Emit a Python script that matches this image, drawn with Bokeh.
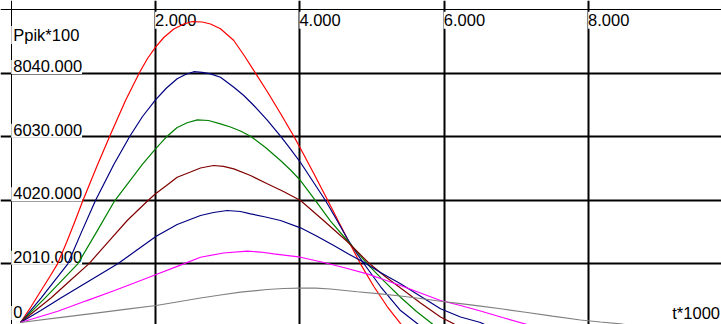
from bokeh.plotting import figure
from bokeh.models import Range1d, Grid, FixedTicker
from bokeh.core.properties import value
from bokeh.embed import file_html
from bokeh.resources import INLINE

# ---- axis ticks / labels ----
X_TICKS = [2, 4, 6, 8]
X_TICK_LABELS = ["2.000", "4.000", "6.000", "8.000"]
Y_TICKS = [0, 2010, 4020, 6030, 8040]
Y_TICK_LABELS = ["0", "2010.000", "4020.000", "6030.000", "8040.000"]
Y_TOP = 10050
Y_TITLE = "Ppik*100"
X_TITLE = "t*1000"

# ---- series (t in thousands, P in Ppik*100) ----
red_t = [0.128, 0.267, 0.405, 0.544, 0.641, 0.766, 0.876, 0.993, 1.191, 1.375, 1.583, 1.781, 1.888,
         1.999, 2.114, 2.252, 2.391, 2.507, 2.646, 2.761, 2.899, 3.084, 3.232, 3.384, 3.551, 3.731,
         3.915, 4.008, 4.192, 4.386, 4.563, 4.655, 4.839, 5.024, 5.209, 5.394, 5.442]
red_p = [155, 629, 1135, 1641, 2010, 2684, 3316, 4011, 5118, 6098, 7172, 8073, 8500,
         8863, 9164, 9432, 9590, 9669, 9654, 9590, 9439, 9069, 8579, 8038, 7441, 6761,
         6044, 5655, 4865, 4011, 3221, 2810, 2010, 1293, 661, 123, 0]

navy1_t = [0.128, 0.415, 0.599, 0.784, 0.973, 1.167, 1.421, 1.643, 1.819, 1.999, 2.151, 2.299, 2.414,
           2.529, 2.646, 2.761, 2.899, 3.084, 3.222, 3.361, 3.547, 3.731, 3.870, 4.008, 4.181, 4.354,
           4.507, 4.655, 4.770, 4.885, 5.116, 5.394, 5.643, 5.671]
navy1_p = [155, 936, 1473, 2010, 3012, 4011, 5149, 6044, 6667, 7194, 7567, 7858, 7994,
           8083, 8064, 8016, 7909, 7593, 7330, 7014, 6555, 6044, 5639, 5213, 4612, 4011,
           3411, 2810, 2399, 2020, 1293, 534, 92, 0]

green_t = [0.128, 0.470, 0.696, 0.922, 1.181, 1.435, 1.625, 1.814, 1.999, 2.161, 2.299, 2.438, 2.577,
           2.733, 2.899, 3.037, 3.176, 3.315, 3.523, 3.731, 3.870, 4.008, 4.216, 4.424, 4.655, 4.932,
           5.162, 5.394, 5.615, 5.837, 5.872]
green_p = [155, 936, 1473, 2010, 3012, 4011, 4580, 5149, 5646, 6044, 6319, 6469, 6562,
           6541, 6436, 6335, 6208, 6044, 5687, 5276, 4975, 4643, 4011, 3363, 2747, 2010,
           1473, 955, 503, 107, 0]

maroon_t = [0.128, 0.554, 0.814, 1.075, 1.341, 1.607, 1.895, 1.999, 2.151, 2.299, 2.484, 2.622, 2.802,
            2.941, 3.084, 3.315, 3.547, 3.772, 4.008, 4.327, 4.655, 4.954, 5.172, 5.394, 5.671, 5.948,
            6.132, 6.19]
maroon_p = [155, 936, 1473, 2010, 2696, 3379, 4011, 4223, 4485, 4748, 4912, 5039, 5118,
            5092, 5013, 4802, 4539, 4296, 4011, 3379, 2715, 2036, 1625, 1245, 771, 329,
            114, 0]

navy2_t = [0.128, 0.409, 0.692, 1.084, 1.476, 1.742, 2.008, 2.299, 2.622, 2.802, 2.992, 3.176, 3.315,
           3.523, 3.731, 4.008, 4.230, 4.469, 4.673, 4.885, 5.116, 5.394, 5.671, 5.948, 6.225, 6.502,
           6.64]
navy2_p = [155, 534, 936, 1473, 2010, 2447, 2883, 3253, 3537, 3632, 3695, 3664, 3591,
           3490, 3379, 3148, 2889, 2589, 2320, 2061, 1735, 1378, 983, 588, 329, 155,
           0]

magenta_t = [0.128, 0.645, 1.039, 1.431, 1.722, 2.008, 2.318, 2.622, 2.941, 3.269, 3.454, 3.638, 4.008,
             4.331, 4.631, 4.932, 5.158, 5.394, 5.671, 5.948, 6.225, 6.502, 6.807, 7.125, 7.264]
magenta_p = [155, 512, 841, 1166, 1419, 1672, 1947, 2219, 2352, 2409, 2383, 2326, 2219,
             2052, 1878, 1694, 1514, 1324, 1087, 850, 692, 518, 313, 107, 0]

gray_t = [0.128, 0.664, 1.199, 1.604, 2.008, 2.317, 2.622, 2.899, 3.176, 3.547, 3.772, 4.008, 4.216,
          4.424, 4.794, 5.116, 5.394, 5.671, 5.948, 6.225, 6.502, 6.807, 7.125, 7.499, 7.888, 8.165,
          8.442, 8.72]
gray_p = [155, 307, 462, 577, 692, 812, 929, 1024, 1113, 1198, 1230, 1245, 1239,
          1214, 1128, 1062, 993, 914, 828, 755, 676, 582, 480, 354, 234, 171,
          114, 0]

series = [
    (red_t, red_p, "#FF0000"),
    (navy1_t, navy1_p, "#000080"),
    (green_t, green_p, "#008000"),
    (maroon_t, maroon_p, "#800000"),
    (navy2_t, navy2_p, "#000080"),
    (magenta_t, magenta_p, "#FF00FF"),
    (gray_t, gray_p, "#808080"),
]

X_START, X_END = -0.149, 9.8413
Y_START, Y_END = 92.2, 10333.9

p = figure(width=721, height=324,
           x_range=Range1d(X_START, X_END), y_range=Range1d(Y_START, Y_END),
           output_backend="svg", toolbar_location=None,
           x_axis_location=None, y_axis_location=None,
           min_border=0, outline_line_color=None,
           background_fill_color="white", border_fill_color="white")
p.grid.visible = False

p.add_layout(Grid(dimension=0, ticker=FixedTicker(ticks=X_TICKS),
                  grid_line_color="black", grid_line_width=2))
p.add_layout(Grid(dimension=1, ticker=FixedTicker(ticks=Y_TICKS),
                  grid_line_color="black", grid_line_width=2))

# frame lines (top and left)
p.hspan(y=[Y_TOP], line_color="black", line_width=1)
p.vspan(x=[0], line_color="black", line_width=1)

FONT = dict(text_font=value("Liberation Sans"), text_font_size="16.5px", text_color="black")

# top tick labels
p.text(x=X_TICKS, y=[Y_TOP] * len(X_TICKS), text=X_TICK_LABELS,
       text_align="left", text_baseline="alphabetic", x_offset=-0.5, y_offset=10.7,
       background_fill_color="white",
       padding=dict(left=0, right=1, top=2, bottom=3), **FONT)

# left tick labels
p.text(x=[0] * len(Y_TICKS), y=Y_TICKS, text=Y_TICK_LABELS,
       text_align="left", text_baseline="alphabetic", x_offset=0,
       y_offset=[-14.5, -6, -6, -6, -6],
       background_fill_color="white",
       padding=dict(left=2, right=0, top=0, bottom=2), **FONT)

# axis titles
p.text(x=[0], y=[Y_TOP], text=[Y_TITLE], text_align="left", text_baseline="alphabetic",
       x_offset=0, y_offset=25.5, background_fill_color="white",
       padding=dict(left=2, right=0, top=0, bottom=0), **FONT)
p.text(x=[X_END], y=[0], text=[X_TITLE], text_align="right", text_baseline="alphabetic",
       x_offset=-1.5, y_offset=-14.5, **FONT)

for t, pv, c in series:
    p.line(t, pv, line_color=c, line_width=1.2)

open("out.html", "w").write(file_html(p, INLINE))
